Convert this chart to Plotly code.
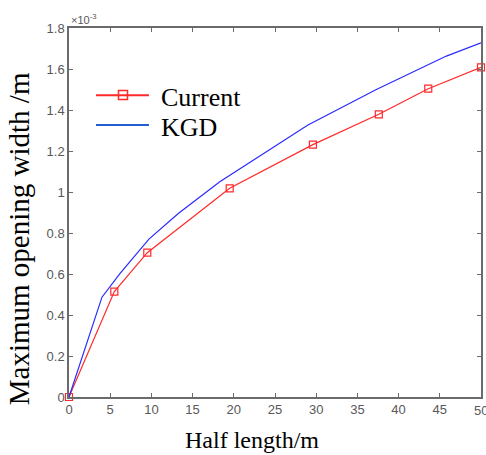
import plotly.graph_objects as go

# Data (y in units of 1e-3 m)
current_x = [0, 5.5, 9.5, 19.5, 29.6, 37.6, 43.6, 50]
current_y = [0, 0.514, 0.704, 1.018, 1.231, 1.379, 1.504, 1.608]
kgd_x = [0, 4.0, 6.2, 9.7, 13.3, 18.3, 29.0, 37.3, 45.8, 50]
kgd_y = [0, 0.487, 0.603, 0.770, 0.896, 1.050, 1.327, 1.500, 1.663, 1.728]

x_ticks = [0, 5, 10, 15, 20, 25, 30, 35, 40, 45, 50]
y_ticks = [0, 0.2, 0.4, 0.6, 0.8, 1.0, 1.2, 1.4, 1.6, 1.8]
y_ticklabels = ["0", "0.2", "0.4", "0.6", "0.8", "1", "1.2", "1.4", "1.6", "1.8"]
series_names = ["Current", "KGD"]

RED = "#ff2a2a"
BLUE = "#2a2aff"
SERIF = "Liberation Serif, Times New Roman, serif"
TICKFONT = dict(family="Liberation Sans, Arial", size=13, color="#585858")

fig = go.Figure()
fig.add_trace(go.Scatter(
    x=current_x, y=current_y, name=series_names[0], mode="lines+markers",
    line=dict(color=RED, width=1.2), cliponaxis=False,
    marker=dict(symbol="square-open", size=7, color=RED, line=dict(width=1.2)),
))
fig.add_trace(go.Scatter(
    x=kgd_x, y=kgd_y, name=series_names[1], mode="lines",
    line=dict(color=BLUE, width=1.2), cliponaxis=False,
))

axis_common = dict(
    showline=True, linecolor="#6b6b6b", linewidth=1.5, mirror="allticks",
    ticks="inside", ticklen=4, tickcolor="#6b6b6b", showgrid=False, zeroline=False,
    automargin=False, tickfont=TICKFONT,
)

fig.update_layout(
    width=486, height=455,
    margin=dict(l=69, r=5, t=28, b=58),
    paper_bgcolor="white", plot_bgcolor="white",
    showlegend=False,
    xaxis=dict(range=[0, 50], tickvals=x_ticks, ticktext=[str(v) for v in x_ticks], **axis_common),
    yaxis=dict(range=[0, 1.8], tickvals=y_ticks, ticktext=y_ticklabels, **axis_common),
)

# last x tick label (drawn as annotation since it runs past the figure edge)
fig.add_annotation(xref="x", yref="paper", x=x_ticks[-1], y=0, yshift=-4, xanchor="center", yanchor="top",
                   text=str(x_ticks[-1]), showarrow=False, font=TICKFONT)

# axis titles
fig.add_annotation(xref="paper", yref="paper", x=0.445, y=-0.1165, xanchor="center", yanchor="middle",
                   text="Half length/m", showarrow=False, font=dict(family=SERIF, size=24, color="black"))
fig.add_annotation(xref="paper", yref="paper", x=-0.121, y=0.428, xanchor="center", yanchor="middle",
                   text="Maximum opening width /m", textangle=-90, showarrow=False,
                   font=dict(family=SERIF, size=29, color="black"))

# exponent label
fig.add_annotation(xref="paper", yref="paper", x=0.0, y=1.0, xanchor="left", yanchor="bottom",
                   text="×10<sup>-3</sup>", showarrow=False, yshift=0,
                   font=dict(family="Liberation Sans, Arial", size=11, color="#585858"))

# manual legend
fig.add_shape(type="line", xref="paper", yref="paper", x0=0.0655, x1=0.194, y0=0.818, y1=0.818,
              line=dict(color=RED, width=2))
fig.add_shape(type="rect", xref="paper", yref="paper", x0=0.1201, x1=0.1420, y0=0.8062, y1=0.8306,
              line=dict(color=RED, width=1.5), fillcolor="rgba(0,0,0,0)")
fig.add_shape(type="line", xref="paper", yref="paper", x0=0.0655, x1=0.194, y0=0.737, y1=0.737,
              line=dict(color="#1f5fd0", width=2))
fig.add_annotation(xref="paper", yref="paper", x=0.2184, y=0.813, xanchor="left", yanchor="middle",
                   text=series_names[0], showarrow=False, font=dict(family=SERIF, size=26, color="black"))
fig.add_annotation(xref="paper", yref="paper", x=0.2184, y=0.731, xanchor="left", yanchor="middle",
                   text=series_names[1], showarrow=False, font=dict(family=SERIF, size=26, color="black"))

fig.write_html("out.html", config={"displayModeBar": False},
               post_script="document.body.style.margin='0';document.body.style.overflow='hidden';")
